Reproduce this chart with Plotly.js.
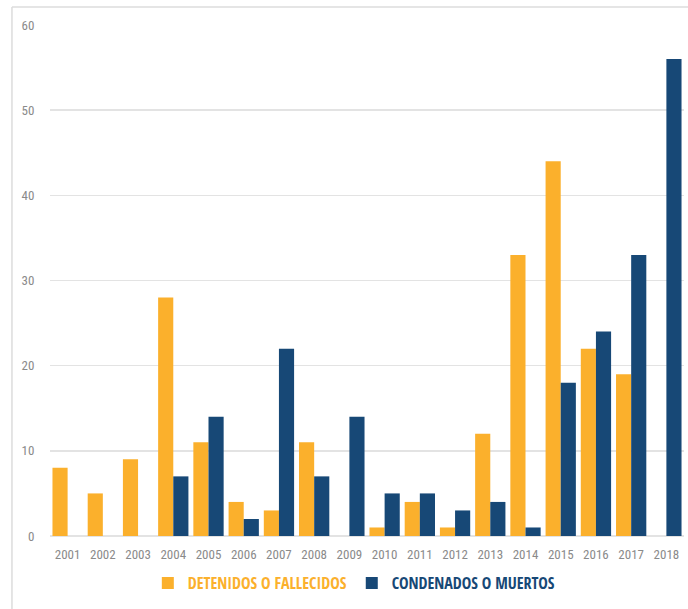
<!DOCTYPE html>
<html>
<head>
<meta charset="utf-8">
<script src="https://cdn.plot.ly/plotly-3.0.1.min.js"></script>
<style>html,body{margin:0;padding:0;background:#fff;}#chart{width:688px;height:609px;}</style>
</head>
<body>
<div id="chart"></div>
<script>
const years = ['2001','2002','2003','2004','2005','2006','2007','2008','2009','2010','2011','2012','2013','2014','2015','2016','2017','2018'];
const detenidos = [8,5,9,28,11,4,3,11,0,1,4,1,12,33,44,22,19,0];
const condenados = [0,0,0,7,14,2,22,7,14,5,5,3,4,1,18,24,33,56];
const seriesNames = ['DETENIDOS O FALLECIDOS','CONDENADOS O MUERTOS'];
const yTicks = [0,10,20,30,40,50,60];

const orange = '#FBB02C';
const blue = '#174876';
const tickFont = 'Roboto Condensed, sans-serif';
const legendFont = 'Open Sans Condensed, Roboto Condensed, sans-serif';

const traces = [
  {type:'bar', x:years, y:detenidos, name:'<b><span style="color:'+orange+'">'+seriesNames[0]+'</span></b>', marker:{color:orange, line:{width:0}}},
  {type:'bar', x:years, y:condenados, name:'<b><span style="color:'+blue+'">'+seriesNames[1]+'</span></b>', marker:{color:blue, line:{width:0}}}
];

const layout = {
  width:688, height:609,
  margin:{l:50, r:4, t:25, b:73},
  paper_bgcolor:'#fff', plot_bgcolor:'#fff',
  barmode:'group', bargap:0.14, bargroupgap:0,
  showlegend:true,
  legend:{orientation:'h', x:0.48, xanchor:'center', y:-0.092, yanchor:'middle',
          font:{family:legendFont, size:16}, itemwidth:30, traceorder:'normal'},
  xaxis:{type:'category', tickfont:{family:tickFont, size:13, color:'#8a8a8a'},
         ticks:'outside', ticklen:6, tickcolor:'rgba(0,0,0,0)', showgrid:false, zeroline:false, showline:false},
  yaxis:{range:[0,60], tickvals:yTicks, tickfont:{family:tickFont, size:13, color:'#8a8a8a'},
         ticks:'outside', ticklen:12, tickcolor:'rgba(0,0,0,0)',
         showgrid:true, gridcolor:'#e3e3e3', gridwidth:1.5, zeroline:true, zerolinecolor:'#e3e3e3', zerolinewidth:1.5, showline:false},
  shapes:[
    {type:'line', xref:'paper', yref:'paper', x0:-0.06, x1:1.01, y0:1.035, y1:1.035, line:{color:'#dcdcdc', width:1.5}},
    {type:'line', xref:'paper', yref:'paper', x0:-0.06, x1:-0.06, y0:1.035, y1:-0.2, line:{color:'#dcdcdc', width:1.5}}
  ]
};

Plotly.newPlot('chart', traces, layout, {displayModeBar:false, staticPlot:true});
</script>
</body>
</html>
